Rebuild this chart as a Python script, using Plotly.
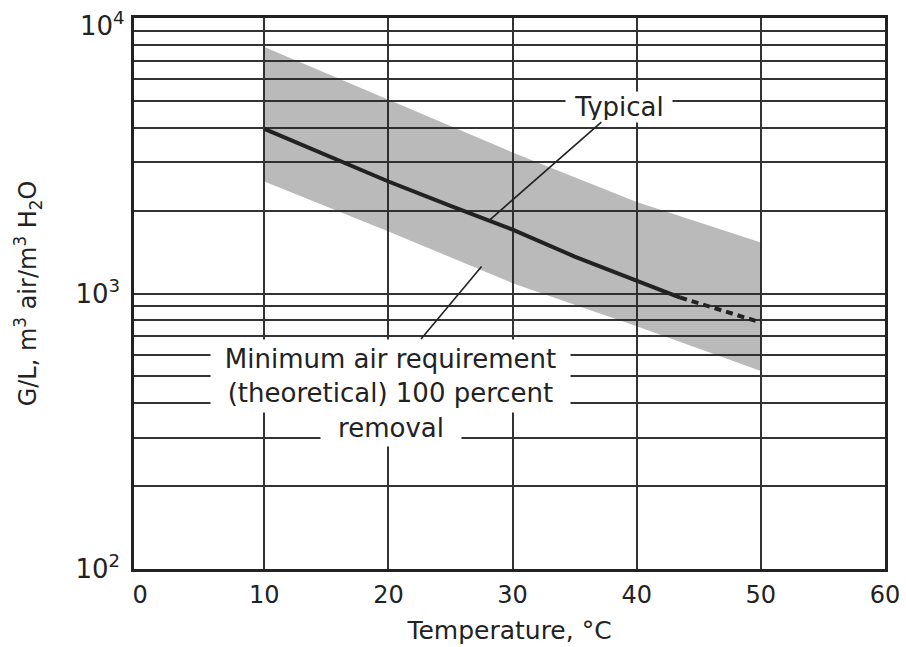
import numpy as np
import plotly.graph_objects as go

# ---- data ----
band_temp = [10, 20, 30, 40, 50]
band_upper = [7850, 5050, 3250, 2150, 1530]
band_lower = [2550, 1680, 1090, 760, 523]

typical_temp = [10, 15, 20, 25, 30, 35, 40, 43.5]
typical_val = [3960, 3185, 2550, 2080, 1706, 1362, 1110, 967]

dashed_temp = [43.5, 50]
dashed_val = [967, 785]

x_ticks = [0, 10, 20, 30, 40, 50, 60]
y_decades = [100, 1000, 10000]
y_minor = [200, 300, 400, 500, 600, 700, 800, 900,
           2000, 3000, 4000, 5000, 6000, 7000, 8000, 9000]

typical_label = "Typical"
minimum_label_main = "Minimum air requirement<br>(theoretical) 100 percent"
minimum_label_last = "removal"
typical_pointer_temp = 28.1
minimum_pointer = (27.5, 1253)

FONT = "DejaVu Sans"
INK = "#222222"
GRID = "#333333"

fig = go.Figure()

# shaded band
fig.add_trace(go.Scatter(x=band_temp, y=band_upper, mode="lines",
                         line=dict(width=0, color="rgba(0,0,0,0)"),
                         showlegend=False, hoverinfo="skip"))
fig.add_trace(go.Scatter(x=band_temp, y=band_lower, mode="lines",
                         line=dict(width=0, color="rgba(0,0,0,0)"),
                         fill="tonexty", fillcolor="rgba(40,40,40,0.32)",
                         showlegend=False, hoverinfo="skip"))
# typical line
fig.add_trace(go.Scatter(x=typical_temp, y=typical_val, mode="lines",
                         line=dict(width=4, color=INK), showlegend=False))
fig.add_trace(go.Scatter(x=dashed_temp, y=dashed_val, mode="lines",
                         line=dict(width=4, color=INK, dash="7px,5px"),
                         showlegend=False))

# y tick set (top decade label is drawn separately, nudged down as in the reference)
top_decade = max(y_decades)
y_tickvals = sorted(y_decades + y_minor)
y_ticktext = []
for v in y_tickvals:
    if v in y_decades and v != top_decade:
        y_ticktext.append("10<sup>%d</sup>" % int(round(np.log10(v))))
    else:
        y_ticktext.append("")

# annotation anchor values
typ_y = np.interp(typical_pointer_temp, typical_temp, np.log10(typical_val))

annos = [
    dict(x=typical_pointer_temp, y=float(typ_y), xref="x", yref="y",
         text=typical_label, showarrow=True, arrowhead=0, arrowwidth=1.6,
         arrowcolor=INK, ax=130, ay=-114, bgcolor="white", borderpad=2,
         width=102, height=26, font=dict(family=FONT, size=26, color=INK)),
    dict(x=minimum_pointer[0], y=float(np.log10(minimum_pointer[1])),
         xref="x", yref="y", text=minimum_label_main, showarrow=True,
         arrowhead=0, arrowwidth=1.6, arrowcolor=INK, ax=-91, ay=109,
         bgcolor="white", borderpad=3, width=353, height=66, align="center",
         font=dict(family=FONT, size=26, color=INK)),
    dict(x=minimum_pointer[0], y=float(np.log10(minimum_pointer[1])),
         xref="x", yref="y", text=minimum_label_last, showarrow=False,
         xshift=-91, yshift=-161, bgcolor="white", borderpad=3,
         width=134, height=30, font=dict(family=FONT, size=26, color=INK)),
    dict(x=0, y=float(np.log10(top_decade)), xref="paper", yref="y",
         text="10<sup>%d</sup>" % int(round(np.log10(top_decade))),
         showarrow=False, xanchor="right", yanchor="middle",
         xshift=-7, yshift=-6, font=dict(family=FONT, size=26, color=INK)),
]

fig.update_layout(
    width=906, height=647,
    margin=dict(l=134, r=21, t=18, b=78),
    paper_bgcolor="white", plot_bgcolor="white",
    font=dict(family=FONT, color=INK),
    annotations=annos,
    showlegend=False,
)

fig.update_xaxes(
    automargin=False,
    range=[-0.5, 60], tickvals=x_ticks, ticktext=[str(t) for t in x_ticks],
    showgrid=False, zeroline=False,
    minor=dict(tickvals=x_ticks[1:-1], showgrid=True, gridcolor=GRID,
               gridwidth=1.5, ticks=""),
    showline=True, linewidth=2.5, linecolor=INK, mirror=True,
    ticks="outside", ticklen=2, tickcolor="rgba(0,0,0,0)",
    tickfont=dict(family=FONT, size=24, color=INK),
    title=dict(text="Temperature, °C", font=dict(family=FONT, size=25, color=INK),
               standoff=14),
)
fig.update_yaxes(
    automargin=False,
    type="log", range=[2, 4], tickvals=y_tickvals, ticktext=y_ticktext,
    showgrid=True, gridcolor=GRID, gridwidth=1.5, zeroline=False,
    showline=True, linewidth=2.5, linecolor=INK, mirror=True,
    ticks="outside", ticklen=6, tickcolor="rgba(0,0,0,0)",
    tickfont=dict(family=FONT, size=26, color=INK),
    title=dict(text="G/L, m<sup>3</sup> air/m<sup>3</sup> H<sub>2</sub>O",
               font=dict(family=FONT, size=24, color=INK), standoff=32),
)

fig.write_html("out.html")
